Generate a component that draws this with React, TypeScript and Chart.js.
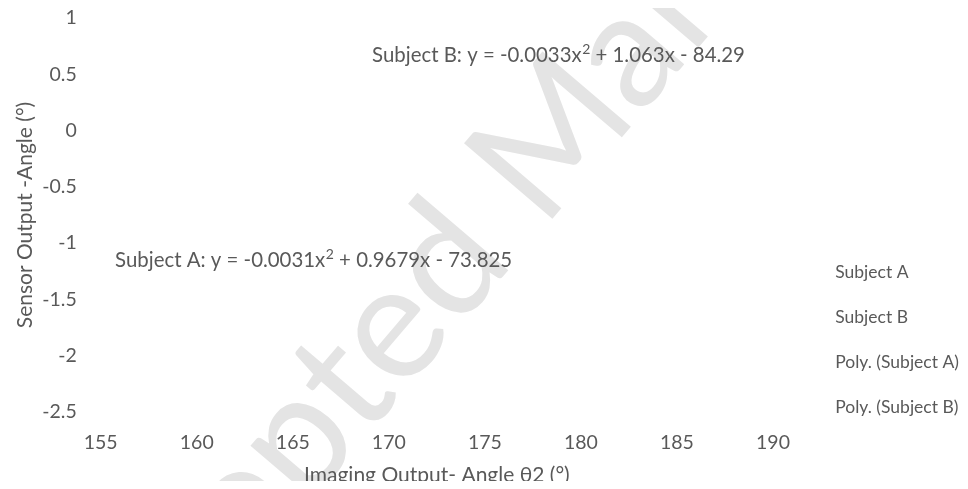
import React, { useEffect, useRef } from 'react';
import { Chart, registerables } from 'chart.js';

Chart.register(...registerables);

// ---- data (no data marks are visible in the reference) ----
const seriesNames = ['Subject A', 'Subject B', 'Poly. (Subject A)', 'Poly. (Subject B)'];
const subjectA: { x: number; y: number }[] = [];
const subjectB: { x: number; y: number }[] = [];
const polySubjectA: { x: number; y: number }[] = [];
const polySubjectB: { x: number; y: number }[] = [];

const xTicks = [155, 160, 165, 170, 175, 180, 185, 190];
const yTicks = [1, 0.5, 0, -0.5, -1, -1.5, -2, -2.5];

const xTitle = 'Imaging Output- Angle \u03b82 (\u00b0)';
const yTitle = 'Sensor Output -Angle (\u00b0)';

// trendline equations: [before superscript, superscript, after]
const eqA = ['Subject A: y = -0.0031x', '2', ' + 0.9679x - 73.825'];
const eqB = ['Subject B: y = -0.0033x', '2', ' + 1.063x - 84.29'];
// anchor (left / middle) of each equation in data units
const eqAnchorA = { x: 155.75, y: -1.15 };
const eqAnchorB = { x: 169.13, y: 0.671 };

const watermark = 'Accepted Manuscript';

const TEXT = '#595959';
const FONT = 'Lato, "Open Sans", sans-serif';

const overlayPlugin = {
  id: 'overlay',
  beforeDraw(chart: any) {
    const { ctx } = chart;
    ctx.save();
    ctx.translate(525, 153);
    ctx.rotate((-49.5 * Math.PI) / 180);
    ctx.font = `162px ${FONT}`;
    ctx.fillStyle = '#e4e4e4';
    ctx.textAlign = 'center';
    ctx.textBaseline = 'middle';
    ctx.fillText(watermark, 0, 0);
    ctx.restore();
  },
  afterDraw(chart: any) {
    const { ctx, scales } = chart;
    const drawEq = (parts: string[], anchor: { x: number; y: number }) => {
      let px = scales.x.getPixelForValue(anchor.x);
      const py = scales.y.getPixelForValue(anchor.y);
      ctx.save();
      ctx.fillStyle = TEXT;
      ctx.textAlign = 'left';
      ctx.textBaseline = 'middle';
      ctx.font = `20.4px ${FONT}`;
      ctx.fillText(parts[0], px, py);
      px += ctx.measureText(parts[0]).width;
      ctx.font = `14px ${FONT}`;
      ctx.fillText(parts[1], px + 0.5, py - 5.5);
      px += ctx.measureText(parts[1]).width + 0.5;
      ctx.font = `20.4px ${FONT}`;
      ctx.fillText(parts[2], px, py);
      ctx.restore();
    };
    drawEq(eqA, eqAnchorA);
    drawEq(eqB, eqAnchorB);
  },
};

export default function App() {
  const canvasRef = useRef<HTMLCanvasElement | null>(null);

  useEffect(() => {
    if (!canvasRef.current) return;
    const chart = new Chart(canvasRef.current, {
      type: 'scatter',
      data: {
        datasets: [
          { type: 'scatter', label: seriesNames[0], data: subjectA, backgroundColor: '#4472C4', borderColor: '#4472C4' },
          { type: 'scatter', label: seriesNames[1], data: subjectB, backgroundColor: '#ED7D31', borderColor: '#ED7D31' },
          { type: 'line', label: seriesNames[2], data: polySubjectA, borderColor: '#4472C4', borderDash: [2, 2], pointRadius: 0, fill: false },
          { type: 'line', label: seriesNames[3], data: polySubjectB, borderColor: '#ED7D31', borderDash: [2, 2], pointRadius: 0, fill: false },
        ] as any,
      },
      options: {
        animation: false,
        responsive: true,
        maintainAspectRatio: false,
        layout: { padding: { top: 10, left: 0, right: 0, bottom: 0 } },
        plugins: {
          tooltip: { enabled: false },
          legend: {
            position: 'right',
            align: 'start',
            maxWidth: 187,
            title: { display: true, text: ' ', font: { size: 19, lineHeight: 1 }, padding: { top: 199, bottom: 0 } },
            labels: {
              font: { family: FONT, size: 17.5 },
              color: TEXT,
              boxWidth: 26.5,
              boxHeight: 18,
              padding: 27,
              generateLabels: (c: any) =>
                c.data.datasets.map((ds: any, i: number) => ({
                  text: ds.label,
                  fillStyle: 'rgba(0,0,0,0)',
                  strokeStyle: 'rgba(0,0,0,0)',
                  lineWidth: 0,
                  hidden: false,
                  datasetIndex: i,
                  fontColor: TEXT,
                })),
            },
          },
        },
        scales: {
          x: {
            type: 'linear',
            min: 155,
            max: 190,
            grid: { display: false, drawTicks: false },
            border: { display: false },
            afterBuildTicks: (s: any) => {
              s.ticks = xTicks.map((v) => ({ value: v }));
            },
            afterFit: (s: any) => {
              s.height = 77;
            },
            ticks: {
              padding: 21,
              color: TEXT,
              font: { family: FONT, size: 19.5, lineHeight: 1 },
              maxRotation: 0,
              callback: (v: any) => String(v),
            },
            title: {
              display: true,
              text: xTitle,
              color: TEXT,
              font: { family: FONT, size: 21, lineHeight: 0.7 },
              padding: { top: 0, bottom: 6.6 },
            },
          },
          y: {
            type: 'linear',
            min: -2.5,
            max: 1,
            grid: { display: false, drawTicks: true, tickLength: 24 },
            border: { display: false },
            afterBuildTicks: (s: any) => {
              s.ticks = yTicks.map((v) => ({ value: v }));
            },
            afterFit: (s: any) => {
              s.width = 92.7;
            },
            ticks: {
              padding: 0,
              color: TEXT,
              font: { family: FONT, size: 19.5, lineHeight: 1 },
              callback: (v: any) => String(v),
            },
            title: {
              display: true,
              text: yTitle,
              color: TEXT,
              font: { family: FONT, size: 21, lineHeight: 1 },
              padding: { top: 6.5, bottom: 0 },
            },
          },
        },
      } as any,
      plugins: [overlayPlugin],
    });
    return () => chart.destroy();
  }, []);

  return (
    <div style={{ position: 'relative', width: 952, height: 481, marginBottom: -8 }}>
      <canvas ref={canvasRef} />
    </div>
  );
}
